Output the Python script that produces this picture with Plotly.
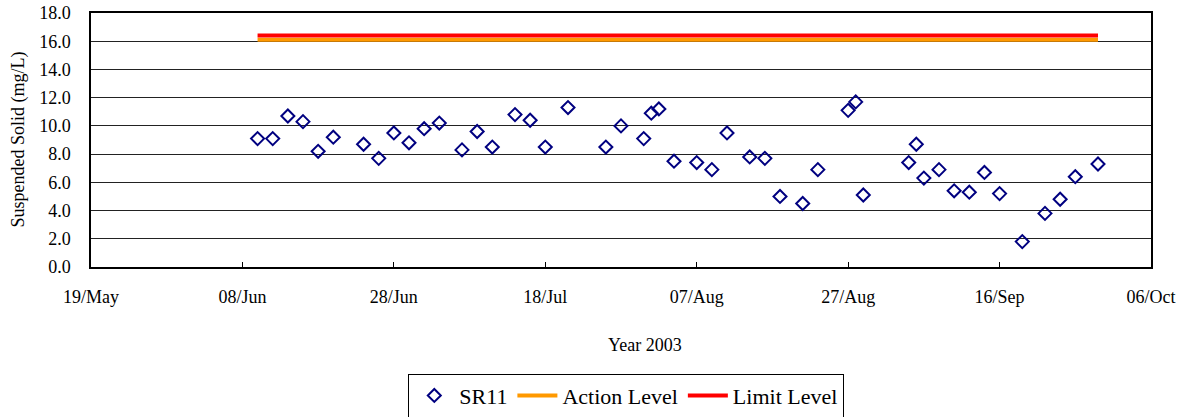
import plotly.graph_objects as go

# SR11 sampling dates and suspended solid results (mg/L), 2003
dates = [
    "2003-06-10", "2003-06-12", "2003-06-14", "2003-06-16", "2003-06-18", "2003-06-20",
    "2003-06-24", "2003-06-26", "2003-06-28", "2003-06-30", "2003-07-02", "2003-07-04",
    "2003-07-07", "2003-07-09", "2003-07-11", "2003-07-14", "2003-07-16", "2003-07-18",
    "2003-07-21", "2003-07-26", "2003-07-28", "2003-07-31", "2003-08-01", "2003-08-02",
    "2003-08-04", "2003-08-07", "2003-08-09", "2003-08-11", "2003-08-14", "2003-08-16",
    "2003-08-18", "2003-08-21", "2003-08-23", "2003-08-27", "2003-08-28", "2003-08-29",
    "2003-09-04", "2003-09-05", "2003-09-06", "2003-09-08", "2003-09-10", "2003-09-12",
    "2003-09-14", "2003-09-16", "2003-09-19", "2003-09-22", "2003-09-24", "2003-09-26",
    "2003-09-29",
]
sr11 = [
    9.1, 9.1, 10.7, 10.3, 8.2, 9.2,
    8.7, 7.7, 9.5, 8.8, 9.8, 10.2,
    8.3, 9.6, 8.5, 10.8, 10.4, 8.5,
    11.3, 8.5, 10.0, 9.1, 10.9, 11.2,
    7.5, 7.4, 6.9, 9.5, 7.8, 7.7,
    5.0, 4.5, 6.9, 11.1, 11.7, 5.1,
    7.4, 8.7, 6.3, 6.9, 5.4, 5.3,
    6.7, 5.2, 1.8, 3.8, 4.8, 6.4,
    7.3,
]

level_dates = ["2003-06-10", "2003-09-29"]
action_level = [16.1, 16.1]
limit_level = [16.4, 16.4]

y_ticks = [0, 2, 4, 6, 8, 10, 12, 14, 16, 18]

FONT = "Liberation Serif, Times New Roman, serif"

fig = go.Figure()
fig.add_trace(go.Scatter(
    x=dates, y=sr11, mode="markers", name="SR11",
    marker=dict(symbol="diamond-open", size=10, color="#000080",
                line=dict(width=2, color="#000080")),
))
fig.add_trace(go.Scatter(
    x=level_dates, y=action_level, mode="lines", name="Action Level",
    line=dict(color="#FF9900", width=4),
))
fig.add_trace(go.Scatter(
    x=level_dates, y=limit_level, mode="lines", name="Limit Level",
    line=dict(color="#FF0000", width=4),
))

fig.update_layout(
    width=1192, height=417,
    margin=dict(l=91, r=41, t=13, b=150, autoexpand=False),
    paper_bgcolor="white", plot_bgcolor="white",
    font=dict(family=FONT, size=18, color="black"),
    showlegend=True,
    legend=dict(
        orientation="h", x=0.505, xanchor="center",
        yref="container", y=0.104, yanchor="top",
        bordercolor="black", borderwidth=1, font=dict(size=22),
        itemwidth=40, tracegroupgap=0,
    ),
    annotations=[
        dict(text="Year 2003", x=0.523, y=-0.307, xref="paper", yref="paper",
             showarrow=False, font=dict(size=18), yanchor="middle"),
        dict(text="Suspended Solid (mg/L)", textangle=-90,
             x=-0.0693, y=0.5, xref="paper", yref="paper",
             showarrow=False, font=dict(size=18),
             xanchor="center", yanchor="middle"),
    ],
)

fig.update_xaxes(
    type="date", automargin=False,
    range=["2003-05-19", "2003-10-06"],
    tick0="2003-05-19", dtick=20 * 86400000,
    tickformat="%d/%b",
    ticks="inside", ticklen=5, tickcolor="black",
    ticklabelstandoff=13,
    showgrid=False, zeroline=False,
    showline=True, linecolor="black", linewidth=1.5, mirror=True,
)
fig.update_yaxes(
    range=[0, 18], tickvals=y_ticks, automargin=False,
    ticktext=[f"{v:.1f}" for v in y_ticks],
    ticklabelstandoff=15, ticklabeloverflow="allow",
    showgrid=True, gridcolor="#222222", gridwidth=1,
    zeroline=False, ticks="",
    showline=True, linecolor="black", linewidth=1.5, mirror=True,
)

# drop the browser's default 8px body margin so the figure fills the window
fig.write_html(
    "out.html",
    config={"displayModeBar": False},
    post_script="document.body.style.margin = '0';",
)
